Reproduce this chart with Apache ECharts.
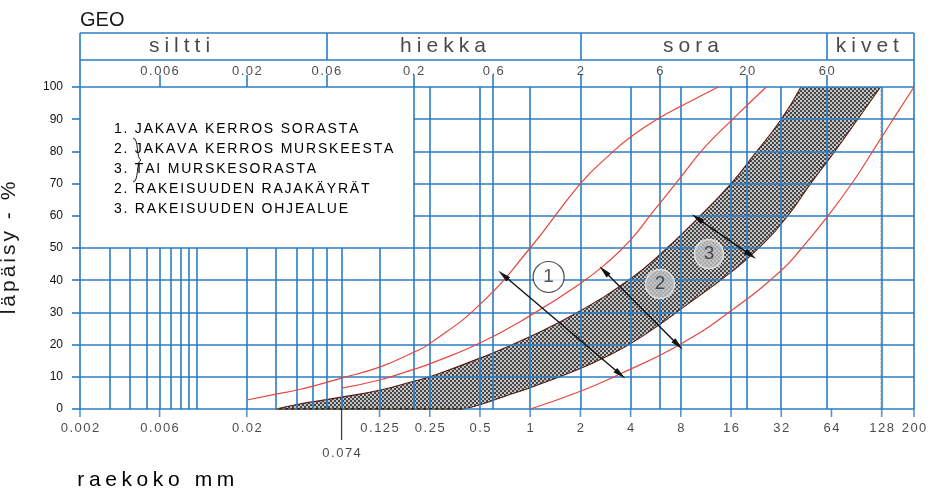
<!DOCTYPE html>
<html>
<head>
<meta charset="utf-8">
<title>Rakeisuuskäyrät</title>
<script src="https://cdn.jsdelivr.net/npm/echarts@6/dist/echarts.min.js"></script>
<style>
	html, body { margin: 0; padding: 0; background: #fff; }
	#chart { width: 934px; height: 491px; }
</style>
</head>
<body>
<div id="chart"></div>
<script>
// raekoko mm (x, log) / läpäisy % (y)
var xMin = 0.002, xMax = 200;
var tickBottom = [0.002, 0.006, 0.02, 0.125, 0.25, 0.5, 1, 2, 4, 8, 16, 32, 64, 128, 200];
var tickTop = [0.006, 0.02, 0.06, 0.2, 0.6, 2, 6, 20, 60];
var tickSpecial = 0.074;
var fractionNames = ['siltti', 'hiekka', 'sora', 'kivet'];
var fractionCenters = [0.0079, 0.3, 9.2, 105];
var fractionBounds = [0.06, 2, 60];
var gridFull = [0.2, 0.25, 0.5, 0.6, 1, 2, 4, 6, 8, 16, 20, 32, 60, 128, 200];
var gridLow = [0.003, 0.004, 0.005, 0.006, 0.007, 0.008, 0.009, 0.01, 0.02, 0.03, 0.04, 0.05, 0.06, 0.074, 0.125];
var levelsFull = [0, 10, 20, 30, 40, 50, 100];
var levelsRight = [60, 70, 80, 90];

// 1. jakava kerros sorasta (rajat curve1 / curve3)
var curve1 = [[0.02, 2.8], [0.03, 4.6], [0.04, 5.9], [0.05, 7.1], [0.074, 9.6], [0.125, 13], [0.2, 17.6],
	[0.25, 20.3], [0.5, 32.5], [1, 50], [2, 70], [3, 79], [4, 84.5], [6, 90.5], [8, 94], [13.4, 100]];
// 2. jakava kerros murskeesta (rajat curve2 / curve3)
var curve2 = [[0.074, 6.5], [0.125, 9], [0.2, 12.3], [0.25, 14], [0.5, 20.5], [1, 29], [2, 39],
	[2.9, 45.5], [4, 52.5], [5.5, 61.5], [8, 72], [11, 81], [16, 89.5], [26, 100]];
var curve3 = [[1, 0], [2, 5.5], [3.5, 11], [8, 20.2], [16, 30.5], [32, 43], [42.5, 50], [60, 59.5],
	[86, 70.5], [113, 80], [150, 90], [200, 100]];
// 3. rakeisuuden ohjealue
var bandUpper = [[0.03, 0], [0.04, 1.4], [0.06, 2.9], [0.074, 3.7], [0.125, 5.8], [0.2, 8.6], [0.25, 10],
	[0.5, 15.8], [1, 22.5], [2, 30.5], [4, 40.5], [6, 48], [10, 59], [16, 70], [22, 79], [32, 90], [42, 100]];
var bandLower = [[0.4, 0], [0.5, 1.3], [0.7, 3.9], [1, 6.6], [2, 12.6], [3, 16.8], [4, 20.3], [6, 26.3],
	[8, 31], [16, 42.5], [24, 50.5], [35, 60], [48, 70], [67, 80], [92, 90], [126, 100]];

var arrows = [
	[[0.69, 41.6], [3.47, 10.8]],
	[[2.77, 42.9], [7.7, 19.9]],
	[[10, 59.3], [21, 47.8]]
];
var markers = [[1.29, 41, '1'], [6, 38.8, '2'], [11.8, 48.1, '3']];

var legendLines = [
	'1. JAKAVA KERROS SORASTA',
	'2. JAKAVA KERROS MURSKEESTA',
	'3. TAI MURSKESORASTA',
	'2. RAKEISUUDEN RAJAKÄYRÄT',
	'3. RAKEISUUDEN OHJEALUE'
];

var FONT = 'Liberation Sans, Arial, sans-serif';
var BLUE = '#2a7cc4';
var RED = '#e5463b';
var EDGE = '#5a1a14';
var INK = '#1a1a1a';

// letter spacing via rich tokens
function spaced(text, key) {
	return text.split('').map(function (ch) {
		return '{' + key + '|' + ch + '}';
	}).join('');
}
function letters(size, gap) {
	return { fontSize: size, fontFamily: FONT, color: INK, padding: [0, gap / 2, 0, gap / 2] };
}
var rich = {
	hd: letters(21, 5),
	ax: letters(21, 4.6),
	yn: letters(21, 3),
	lg: letters(14, 1.8),
	nm: letters(13, 1.5)
};

function hatchImage() {
	var c = document.createElement('canvas');
	c.width = 4;
	c.height = 4;
	var g = c.getContext('2d');
	g.fillStyle = '#464646';
	g.fillRect(0, 0, 4, 4);
	g.fillStyle = '#c4c4c4';
	g.fillRect(0, 0, 2, 2);
	g.fillRect(2, 2, 2, 2);
	return c;
}
var hatch = { image: hatchImage(), repeat: 'repeat' };

function seg(a, b) {
	return [{ coord: a }, { coord: b }];
}

var gridLines = [];
levelsFull.forEach(function (v) { gridLines.push(seg([xMin, v], [xMax, v])); });
levelsRight.forEach(function (v) { gridLines.push(seg([0.2, v], [xMax, v])); });
gridFull.forEach(function (d) { gridLines.push(seg([d, 0], [d, 100])); });
gridLow.forEach(function (d) { gridLines.push(seg([d, 0], [d, 50])); });

var headLines = [seg([xMin, 2], [xMax, 2]), seg([xMin, 1], [xMax, 1]), seg([xMin, 0], [xMin, 2]), seg([xMax, 0], [xMax, 2])];
fractionBounds.forEach(function (d) { headLines.push(seg([d, 1], [d, 2])); });
tickTop.forEach(function (d) { headLines.push(seg([d, 0], [d, 0.44])); });

function lineSet(data, idx, z, style) {
	return {
		type: 'line', xAxisIndex: idx, yAxisIndex: idx, data: [], silent: true, z: z,
		markLine: {
			silent: true, z: z, symbol: ['none', 'none'], label: { show: false },
			lineStyle: style, data: data
		}
	};
}

function curve(data, color, width, z) {
	return {
		type: 'line', data: data, smooth: 0.5, symbol: 'none', silent: true, z: z,
		lineStyle: { color: color, width: width }
	};
}

function textPoints(data, idx, key, offset, z) {
	return {
		type: 'scatter', xAxisIndex: idx, yAxisIndex: idx, data: data, symbolSize: 1,
		itemStyle: { color: 'rgba(0,0,0,0)' }, silent: true, clip: false, z: z,
		label: {
			show: true, position: 'inside', offset: offset, rich: rich,
			formatter: function (p) { return spaced(p.name || String(p.value[0]), key); }
		}
	};
}

var chart = echarts.init(document.getElementById('chart'));

var arrowHead = 'path://M3,0 L6,14 L0,14 Z';

var option = {
	animation: false,
	backgroundColor: '#fff',
	textStyle: { fontFamily: FONT },
	grid: [
		{ left: 80, right: 20, top: 87, bottom: 82, containLabel: false, outerBoundsMode: 'none' },
		{ left: 80, right: 20, top: 33, height: 54, containLabel: false, outerBoundsMode: 'none' }
	],
	xAxis: [
		{
			gridIndex: 0, type: 'log', logBase: 10, min: xMin, max: xMax,
			axisLine: { show: false }, axisTick: { show: false }, axisLabel: { show: false },
			splitLine: { show: false }, minorSplitLine: { show: false }
		},
		{
			gridIndex: 1, type: 'log', logBase: 10, min: xMin, max: xMax, show: false,
			splitLine: { show: false }
		}
	],
	yAxis: [
		{
			gridIndex: 0, type: 'value', min: 0, max: 100, interval: 10,
			axisLine: { show: true, lineStyle: { color: BLUE, width: 1.6 } },
			axisTick: { show: true, inside: false, length: 8, lineStyle: { color: BLUE, width: 1.6 } },
			axisLabel: { margin: 17, fontSize: 12, fontFamily: FONT, color: '#111' },
			splitLine: { show: false },
			name: spaced('läpäisy - %', 'yn'),
			nameLocation: 'middle', nameGap: 60, nameRotate: 90,
			nameTextStyle: { rich: rich }
		},
		{ gridIndex: 1, type: 'value', min: 0, max: 2, show: false, splitLine: { show: false } }
	],
	graphic: [
		{ type: 'text', x: 80, y: 20, style: { text: 'GEO', font: '20px ' + FONT, fill: INK, verticalAlign: 'middle' } },
		{ type: 'text', x: 75, y: 480, style: { text: spaced('raekoko mm', 'ax'), rich: rich, verticalAlign: 'middle' } },
		{ type: 'bezierCurve', shape: { x1: 133, y1: 138, cpx1: 139, cpy1: 138, cpx2: 136, cpy2: 159, x2: 141, y2: 160 }, style: { stroke: INK, lineWidth: 1, fill: null } },
		{ type: 'bezierCurve', shape: { x1: 141, y1: 160, cpx1: 136, cpy1: 161, cpx2: 139, cpy2: 182, x2: 133, y2: 182 }, style: { stroke: INK, lineWidth: 1, fill: null } }
	].concat(legendLines.map(function (t, i) {
		return { type: 'text', x: 113, y: 129.5 + i * 19.8, style: { text: spaced(t, 'lg'), rich: rich, verticalAlign: 'middle' } };
	})),
	series: [
		// ohjealue: hatched under upper bound, white under lower bound
		{
			type: 'line', data: bandUpper, smooth: 0.5, symbol: 'none', silent: true, z: 2,
			lineStyle: { color: EDGE, width: 1.1 }, areaStyle: { color: hatch, opacity: 1 }
		},
		{
			type: 'line', data: [bandUpper[bandUpper.length - 1], bandLower[bandLower.length - 1]],
			symbol: 'none', silent: true, z: 2,
			lineStyle: { width: 0 }, areaStyle: { color: hatch, opacity: 1 }
		},
		{
			type: 'line', data: bandLower, smooth: 0.5, symbol: 'none', silent: true, z: 3,
			lineStyle: { color: EDGE, width: 1.1 }, areaStyle: { color: '#fff', opacity: 1 }
		},
		lineSet(gridLines, 0, 4, { color: BLUE, width: 1.6, type: 'solid' }),
		lineSet(headLines, 1, 4, { color: BLUE, width: 1.6, type: 'solid' }),
		{
			type: 'line', data: [bandUpper[0], bandLower[0]], symbol: 'none', silent: true, z: 5,
			lineStyle: { color: '#111', width: 1.6 }
		},
		{
			type: 'line', data: [bandUpper[0], bandLower[0]], symbol: 'none', silent: true, z: 5,
			lineStyle: { color: '#f0a040', width: 1, type: [3, 3] }
		},
		curve(curve1, RED, 1.2, 5),
		curve(curve2, RED, 1.2, 5),
		curve(curve3, RED, 1.2, 5),
		{
			type: 'line', data: [], silent: true, z: 6,
			markLine: {
				silent: true, z: 6, symbol: [arrowHead, arrowHead], symbolSize: 13, symbolKeepAspect: true,
				label: { show: false },
				lineStyle: { color: '#111', width: 1.4, type: 'solid' },
				itemStyle: { color: '#111' },
				data: arrows.map(function (a) { return seg(a[0], a[1]); })
			}
		},
		{
			type: 'scatter', data: markers.map(function (m, i) {
				return {
					value: [m[0], m[1]], name: m[2],
					symbolSize: i === 0 ? 31 : 29,
					itemStyle: i === 0
						? { color: '#fff', borderColor: '#222', borderWidth: 1.2 }
						: { color: '#c4c4c4', borderColor: '#ececec', borderWidth: 1.5 }
				};
			}),
			silent: true, z: 7,
			label: { show: true, position: 'inside', formatter: '{b}', fontSize: 19, fontFamily: FONT, color: '#2a2a2a' }
		},
		// x ticks below the axis
		{
			type: 'scatter', data: tickBottom.map(function (d) { return [d, 0]; }),
			symbol: 'rect', symbolSize: [1.6, 8], symbolOffset: [0, 4], clip: false, silent: true, z: 8,
			itemStyle: { color: BLUE }
		},
		{
			type: 'scatter', data: [[tickSpecial, 0]],
			symbol: 'rect', symbolSize: [1.3, 31], symbolOffset: [0, 15.5], clip: false, silent: true, z: 8,
			itemStyle: { color: '#111' }
		},
		textPoints(tickBottom.map(function (d) { return [d, 0]; }), 0, 'nm', [0, 19], 9),
		textPoints([[tickSpecial, 0]], 0, 'nm', [0, 44], 9),
		textPoints(tickTop.map(function (d) { return [d, 0.57]; }), 1, 'nm', [0, 0], 9),
		textPoints(fractionNames.map(function (n, i) {
			return { name: n, value: [fractionCenters[i], 1.5] };
		}), 1, 'hd', [0, 0], 9)
	]
};

chart.setOption(option);
window.onresize = function () {
	chart.resize();
};
</script>
</body>
</html>
